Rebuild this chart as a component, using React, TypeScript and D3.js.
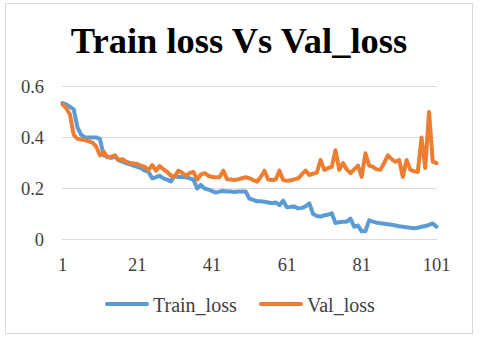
import React from "react";
import * as d3 from "d3";

const trainLoss: number[] = [
  0.535, 0.53, 0.52, 0.51, 0.44, 0.41, 0.40, 0.40, 0.40, 0.40,
  0.395, 0.33, 0.325, 0.32, 0.325, 0.31, 0.305, 0.30, 0.295, 0.29,
  0.285, 0.28, 0.27, 0.265, 0.24, 0.245, 0.25, 0.24, 0.235, 0.228,
  0.25, 0.245, 0.245, 0.244, 0.24, 0.235, 0.20, 0.214, 0.20, 0.196,
  0.19, 0.184, 0.188, 0.19, 0.188, 0.188, 0.186, 0.188, 0.188, 0.188,
  0.16, 0.155, 0.15, 0.15, 0.148, 0.145, 0.142, 0.145, 0.135, 0.152,
  0.126, 0.128, 0.129, 0.122, 0.124, 0.13, 0.142, 0.10, 0.092, 0.09,
  0.095, 0.097, 0.103, 0.065, 0.068, 0.07, 0.07, 0.082, 0.05, 0.055,
  0.032, 0.033, 0.075, 0.07, 0.066, 0.064, 0.062, 0.06, 0.058, 0.055,
  0.052, 0.05, 0.048, 0.046, 0.044, 0.046, 0.05, 0.053, 0.057, 0.063,
  0.05,
];

const valLoss: number[] = [
  0.53, 0.515, 0.49, 0.41, 0.395, 0.392, 0.39, 0.385, 0.38, 0.365,
  0.33, 0.345, 0.322, 0.325, 0.33, 0.312, 0.315, 0.305, 0.30, 0.298,
  0.296, 0.29, 0.285, 0.272, 0.292, 0.27, 0.288, 0.275, 0.265, 0.25,
  0.246, 0.27, 0.262, 0.25, 0.26, 0.265, 0.235, 0.255, 0.26, 0.25,
  0.245, 0.244, 0.244, 0.27, 0.236, 0.235, 0.233, 0.236, 0.24, 0.244,
  0.24, 0.233, 0.227, 0.245, 0.27, 0.235, 0.233, 0.235, 0.27, 0.233,
  0.23, 0.232, 0.236, 0.24, 0.255, 0.27, 0.253, 0.258, 0.262, 0.312,
  0.273, 0.28, 0.285, 0.35, 0.273, 0.30, 0.275, 0.26, 0.275, 0.29,
  0.246, 0.338, 0.29, 0.285, 0.275, 0.273, 0.30, 0.33, 0.315, 0.305,
  0.312, 0.246, 0.312, 0.273, 0.268, 0.265, 0.40, 0.28, 0.50, 0.305,
  0.30,
];

const epochs: number[] = trainLoss.map((_, i) => i + 1);
const xTickLabels: number[] = [1, 21, 41, 61, 81, 101];
const yTickValues: number[] = [0, 0.2, 0.4, 0.6];
const seriesNames: string[] = ["Train_loss", "Val_loss"];
const seriesColors: string[] = ["#5B9BD5", "#ED7D31"];

const W = 480;
const H = 340;
const FONT = "'Liberation Serif', 'Times New Roman', serif";

export default function App() {
  const x = d3.scaleLinear().domain([1, 101]).range([62.5, 436.5]);
  const y = d3.scaleLinear().domain([0, 0.6]).range([239.5, 86.5]);
  const line = d3
    .line<number>()
    .x((_, i) => x(epochs[i]))
    .y((d) => y(d));
  const series = [trainLoss, valLoss];

  return (
    <svg
      width={W}
      height={H}
      style={{ position: "absolute", left: 0, top: 0, background: "#fff" }}
    >
      <rect x={0} y={0} width={W} height={H} fill="#fff" />
      <rect x={5.5} y={3.5} width={467} height={330} fill="#fff" stroke="#d9d9d9" strokeWidth={1} />
      <text
        x={239}
        y={53}
        textAnchor="middle"
        fontFamily={FONT}
        fontWeight="bold"
        fontSize={36.5}
        fill="#000"
      >
        Train loss Vs Val_loss
      </text>
      {yTickValues.map((v) => (
        <g key={v}>
          <line x1={62} x2={437} y1={y(v)} y2={y(v)} stroke="#d9d9d9" strokeWidth={1} />
          <text
            x={44}
            y={y(v) + 6.5}
            textAnchor="end"
            fontFamily={FONT}
            fontSize={18.5}
            fill="#404040"
          >
            {v === 0 ? "0" : v.toFixed(1)}
          </text>
        </g>
      ))}
      {xTickLabels.map((t) => (
        <text
          key={t}
          x={x(t)}
          y={270.5}
          textAnchor="middle"
          fontFamily={FONT}
          fontSize={18.5}
          fill="#404040"
        >
          {t}
        </text>
      ))}
      {series.map((s, k) => (
        <path
          key={k}
          d={line(s) || ""}
          fill="none"
          stroke={seriesColors[k]}
          strokeWidth={4}
          strokeLinejoin="round"
          strokeLinecap="round"
        />
      ))}
      {seriesNames.map((n, k) => {
        const sx = k === 0 ? 107 : 261;
        return (
          <g key={n}>
            <line
              x1={sx}
              x2={sx + 40}
              y1={304}
              y2={304}
              stroke={seriesColors[k]}
              strokeWidth={4}
              strokeLinecap="round"
            />
            <text
              x={sx + 46}
              y={311.5}
              fontFamily={FONT}
              fontSize={20}
              fill="#404040"
            >
              {n}
            </text>
          </g>
        );
      })}
    </svg>
  );
}
